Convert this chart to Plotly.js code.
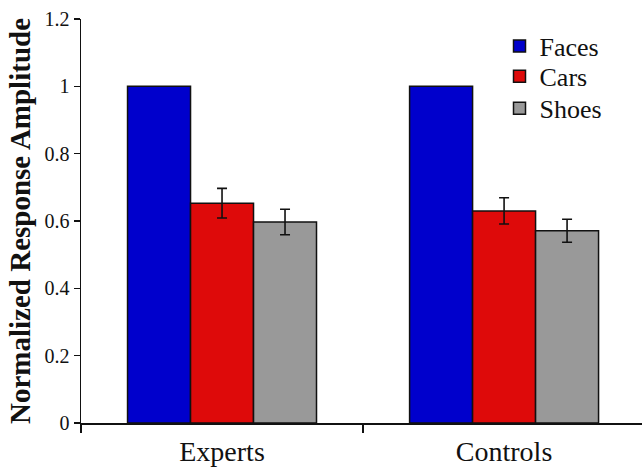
<!DOCTYPE html>
<html>
<head>
<meta charset="utf-8">
<script src="https://cdn.plot.ly/plotly-3.0.1.min.js"></script>
<style>
  html, body { margin: 0; padding: 0; background: #fff; overflow: hidden; }
  #chart { width: 642px; height: 473px; }
</style>
</head>
<body>
<div id="chart"></div>
<script>
const categories = ['Experts', 'Controls'];
const seriesNames = ['Faces', 'Cars', 'Shoes'];
const faces = [1.0, 1.0];
const cars = [0.653, 0.630];
const shoes = [0.597, 0.571];
const carsErr = [0.044, 0.039];
const shoesErr = [0.038, 0.034];
const yTicks = [0, 0.2, 0.4, 0.6, 0.8, 1, 1.2];

const colors = ['#0000CC', '#DE0A0A', '#999999'];
const outline = { color: '#111111', width: 1.5 };
const errStyle = (arr) => ({ type: 'data', array: arr, visible: true, color: '#111111', thickness: 1.6, width: 5 });

const traces = [
  { type: 'bar', name: seriesNames[0], x: categories, y: faces, legend: 'legend',
    marker: { color: colors[0], line: outline } },
  { type: 'bar', name: seriesNames[1], x: categories, y: cars, legend: 'legend2',
    marker: { color: colors[1], line: outline }, error_y: errStyle(carsErr) },
  { type: 'bar', name: seriesNames[2], x: categories, y: shoes, legend: 'legend3',
    marker: { color: colors[2], line: outline }, error_y: errStyle(shoesErr) }
];

const legendFont = { family: 'Liberation Serif', size: 26, color: '#111111' };
const mkLegend = (y) => ({ x: 0.746, xanchor: 'left', y: y, yanchor: 'middle',
  font: legendFont, bgcolor: 'rgba(0,0,0,0)', borderwidth: 0 });

const layout = {
  width: 642, height: 473,
  margin: { l: 81, r: 0, t: 19, b: 50 },
  paper_bgcolor: '#ffffff', plot_bgcolor: '#ffffff',
  barmode: 'group', bargap: 0.33, bargroupgap: 0,
  xaxis: {
    type: 'category', range: [-0.5, 1.489],
    showline: true, linecolor: '#111111', linewidth: 1.5,
    ticks: 'outside', tickson: 'boundaries', ticklen: 8, tickwidth: 1.5, tickcolor: '#111111',
    tickfont: { family: 'Liberation Serif', size: 28, color: '#111111' },
    ticklabelstandoff: 3,
    showgrid: false, zeroline: false, fixedrange: true
  },
  yaxis: {
    range: [0, 1.2], tickvals: yTicks,
    showline: true, linecolor: '#111111', linewidth: 1.5,
    ticks: 'outside', ticklen: 6, tickwidth: 1.5, tickcolor: '#111111',
    tickfont: { family: 'Liberation Serif', size: 20, color: '#111111' },
    showgrid: false, zeroline: false, fixedrange: true,
    title: { text: '<b>Normalized Response Amplitude</b>', font: { family: 'Liberation Serif', size: 29, color: '#111111' }, standoff: 5 }
  },
  showlegend: true,
  legend: mkLegend(0.933),
  legend2: mkLegend(0.858),
  legend3: mkLegend(0.779)
};

Plotly.newPlot('chart', traces, layout, { staticPlot: true, displayModeBar: false });
</script>
</body>
</html>
